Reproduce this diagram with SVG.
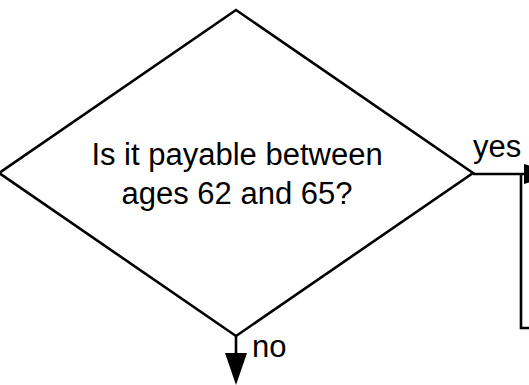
<svg xmlns="http://www.w3.org/2000/svg" width="529" height="385" viewBox="0 0 529 385">
  <style>
    .shape { fill: #ffffff; stroke: #000000; stroke-width: 2.6; }
    .edge { fill: none; stroke: #000000; stroke-width: 2.6; }
    .head { fill: #000000; stroke: none; }
    .label { font-family: "Liberation Sans", Arial, sans-serif; font-size: 31px; fill: #000000; }
  </style>
  <rect width="529" height="385" fill="#ffffff"/>

  <!-- decision node -->
  <g id="decision">
    <polygon class="shape" points="236,10 473,173 236,336 -1,173"/>
    <text class="label" x="237" y="165" text-anchor="middle">Is it payable between</text>
    <text class="label" x="237" y="204" text-anchor="middle">ages 62 and 65?</text>
  </g>

  <!-- next step box, partly outside the frame -->
  <g id="next-step">
    <path class="edge" d="M521,174 V328 H532"/>
  </g>

  <!-- connectors -->
  <g id="connectors">
    <path class="edge" d="M473,174 H526"/>
    <polygon class="head" points="524,164 555,174 524,184"/>
    <text class="label" x="473" y="157">yes</text>

    <path class="edge" d="M236,336 V354"/>
    <polygon class="head" points="225,353 247,353 236,385"/>
    <text class="label" x="252" y="357">no</text>
  </g>
</svg>
